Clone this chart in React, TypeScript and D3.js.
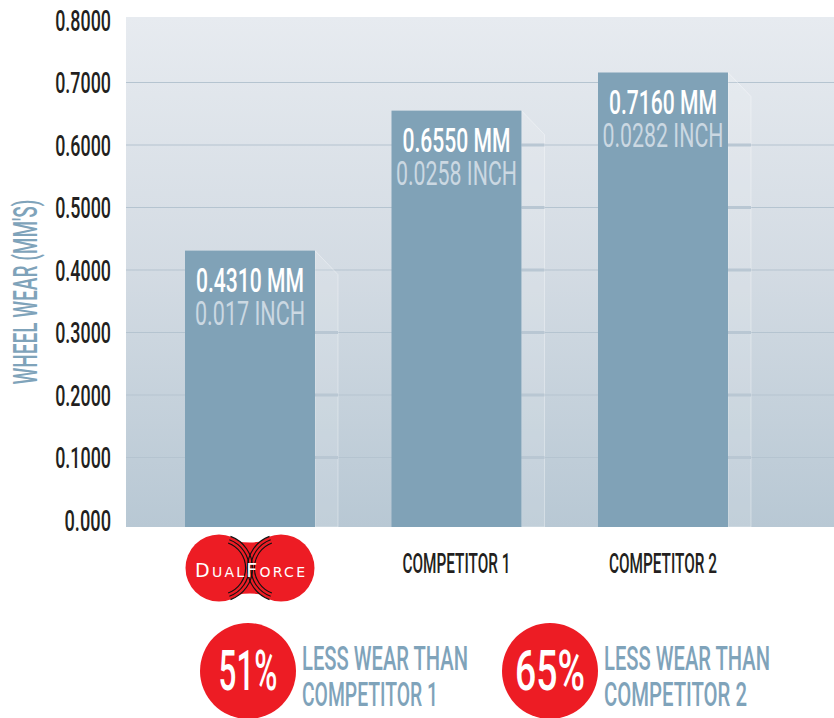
import React from 'react';
import * as d3 from 'd3';

// chart values
const categories = ['DUALFORCE', 'COMPETITOR 1', 'COMPETITOR 2'];
const wearMM = [0.431, 0.655, 0.716];
const wearMMLabels = ['0.4310 MM', '0.6550 MM', '0.7160 MM'];
const wearInchLabels = ['0.017 INCH', '0.0258 INCH', '0.0282 INCH'];
const yTicks = [0, 0.1, 0.2, 0.3, 0.4, 0.5, 0.6, 0.7, 0.8];
const yTickLabels = ['0.000', '0.1000', '0.2000', '0.3000', '0.4000', '0.5000', '0.6000', '0.7000', '0.8000'];
const savingsPct = ['51%', '65%'];
const savingsVs = ['COMPETITOR 1', 'COMPETITOR 2'];

const W = 834;
const H = 718;
const FONT = 'Roboto, "Liberation Sans", sans-serif';

const BAR = '#80a2b7';
const RED = '#ed1c24';
const DARK = '#231f20';
const STEEL = '#7fa3ba';

// condensed text: the reference uses a very narrow display face, so squeeze to a width
const Cond = ({ x, y, w, size, anchor = 'start', fill, children, weight = 500 }: any) => (
  <text
    x={x}
    y={y}
    textLength={w}
    lengthAdjust="spacingAndGlyphs"
    textAnchor={anchor}
    fontFamily={FONT}
    fontSize={size}
    fontWeight={weight}
    fill={fill}
  >
    {children}
  </text>
);

const App: React.FC = () => {
  const plotLeft = 126;
  const plotTop = 17;
  const plotBottom = 527;

  const y = d3.scaleLinear().domain([0, 0.8]).range([520, 20]);
  const x = d3.scalePoint<string>().domain(categories).range([250, 663]);
  const barW = 130;
  const sideW = 23;

  const logoX = x(categories[0])!;
  const logoY = 568;
  const lobeR = 33.5;
  const lobeOff = 31;
  const arc = d3.arc();

  return (
    <svg width={W} height={H} style={{ position: 'absolute', left: 0, top: 0, background: '#fff' }}>
      <defs>
        <linearGradient id="bg" x1="0" y1="0" x2="0" y2="1">
          <stop offset="0%" stopColor="#e7ebf0" />
          <stop offset="50%" stopColor="#d3dbe3" />
          <stop offset="100%" stopColor="#b8c8d4" />
        </linearGradient>
      </defs>

      {/* plot background */}
      <rect x={plotLeft} y={plotTop} width={W - plotLeft} height={plotBottom - plotTop} fill="url(#bg)" />

      {/* gridlines */}
      {yTicks.filter(t => t > 0 && t < 0.8).map(t => (
        <line key={t} x1={plotLeft} x2={W} y1={y(t)} y2={y(t)} stroke="#b5c4d0" strokeWidth={1.2} />
      ))}

      {/* 3d side faces */}
      {categories.map((c, i) => {
        const r = x(c)! + barW / 2;
        const top = y(wearMM[i]);
        const pts = [[r, top], [r + sideW, top + 24], [r + sideW, plotBottom], [r, plotBottom]];
        return (
          <g key={'side' + c}>
            <polygon points={pts.map(p => p.join(',')).join(' ')} fill="#ffffff" fillOpacity={0.13}
              stroke="#ffffff" strokeOpacity={0.35} strokeWidth={1} />
            {yTicks.filter(t => t > 0 && y(t) > top + 24).map(t => (
              <line key={t} x1={r} x2={r + sideW} y1={y(t)} y2={y(t)} stroke="#b9c7d3" strokeWidth={3} />
            ))}
          </g>
        );
      })}

      {/* bars */}
      {categories.map((c, i) => (
        <rect key={c} x={x(c)! - barW / 2} y={y(wearMM[i])} width={barW}
          height={plotBottom - y(wearMM[i])} fill={BAR} />
      ))}

      {/* bar labels */}
      {categories.map((c, i) => {
        const top = y(wearMM[i]);
        return (
          <g key={'lab' + c}>
            <Cond x={x(c)!} y={top + 41} w={wearMMLabels[i].length * 12} size={33} anchor="middle" fill="#ffffff">{wearMMLabels[i]}</Cond>
            <Cond x={x(c)!} y={top + 74} w={wearInchLabels[i].length * 11} size={33} anchor="middle" fill="#cbd8e2" weight={400}>{wearInchLabels[i]}</Cond>
          </g>
        );
      })}

      {/* y axis labels */}
      {yTicks.map((t, i) => (
        <Cond key={t} x={111} y={y(t) + 10.5} w={yTickLabels[i].length * 9.3} size={29} anchor="end" fill={DARK}>{yTickLabels[i]}</Cond>
      ))}

      {/* y axis title */}
      <g transform="translate(37,292) rotate(-90)">
        <Cond x={0} y={0} w={185} size={33} anchor="middle" fill={STEEL}>WHEEL WEAR (MM'S)</Cond>
      </g>

      {/* category labels */}
      {categories.slice(1).map(c => (
        <Cond key={c} x={x(c)!} y={573} w={108} size={28} anchor="middle" fill={DARK}>{c}</Cond>
      ))}

      {/* DualForce logo */}
      <g>
        <circle cx={logoX - lobeOff} cy={logoY} r={lobeR} fill={RED} />
        <circle cx={logoX + lobeOff} cy={logoY} r={lobeR} fill={RED} />
        <path
          d={`M${logoX - 26},${logoY - 31} Q${logoX},${logoY - 20} ${logoX + 26},${logoY - 31} L${logoX + 26},${logoY + 31} Q${logoX},${logoY + 20} ${logoX - 26},${logoY + 31} Z`}
          fill={RED}
        />
        {[26, 29.5, 33].map(rr => (
          <g key={rr}>
            <path transform={`translate(${logoX - lobeOff},${logoY})`}
              d={arc({ innerRadius: rr, outerRadius: rr + 1.2, startAngle: 0.35, endAngle: Math.PI - 0.35 }) || ''}
              fill="#111" />
            <path transform={`translate(${logoX + lobeOff},${logoY})`}
              d={arc({ innerRadius: rr, outerRadius: rr + 1.2, startAngle: Math.PI + 0.35, endAngle: 2 * Math.PI - 0.35 }) || ''}
              fill="#111" />
          </g>
        ))}
        <text x={logoX - 55} y={logoY + 9} textLength={110} lengthAdjust="spacing"
          fontFamily='"DejaVu Sans", sans-serif' fill="#ffffff">
          <tspan fontSize={19}>D</tspan>
          <tspan fontSize={14}>UAL</tspan>
          <tspan fontSize={19}>F</tspan>
          <tspan fontSize={14}>ORCE</tspan>
        </text>
      </g>

      {/* savings call-outs */}
      {savingsPct.map((p, i) => {
        const cx = [248, 550][i];
        return (
          <g key={p}>
            <circle cx={cx} cy={671} r={48} fill={RED} />
            <Cond x={cx} y={690} w={[59, 70][i]} size={55} anchor="middle" fill="#ffffff">{p}</Cond>
            <Cond x={cx + 54} y={670} w={166} size={33} fill={STEEL}>LESS WEAR THAN</Cond>
            <Cond x={cx + 54} y={706} w={[136, 143][i]} size={33} fill={STEEL}>{savingsVs[i]}</Cond>
          </g>
        );
      })}
    </svg>
  );
};

export default App;
